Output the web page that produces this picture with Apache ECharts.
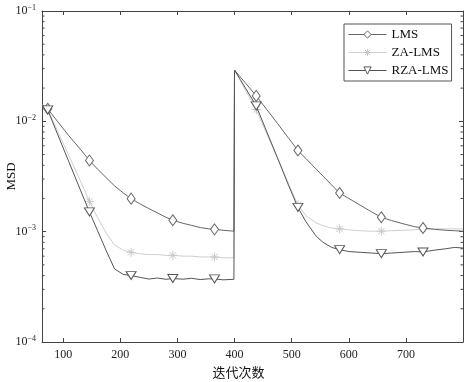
<!DOCTYPE html>
<html>
<head>
<meta charset="utf-8">
<script src="https://cdn.jsdelivr.net/npm/echarts@6/dist/echarts.min.js"></script>
<style>
html,body{margin:0;padding:0;background:#fff;}
#chart{width:464px;height:382px;}
</style>
</head>
<body>
<div id="chart"></div>
<script>
// iteration index (x)
const iterations = [63,73,90,110,130,146,160,175,190,205,219,235,250,265,280,292,310,325,340,355,365,380,399,
  400,410,420,438,455,475,495,511,525,543,555,570,584,600,620,640,657,675,695,715,730,750,770,785,800];
// MSD values
const lmsMSD = [0.0142,0.0130,0.0100,0.0074,0.0056,0.00442,0.0037,0.0031,0.0026,0.00225,
  0.00199,0.00178,0.00162,0.00148,0.00135,0.00127,0.00119,0.00114,0.00109,0.00106,
  0.00105,0.00103,0.00101,
  0.0292,0.0253,0.0220,0.0170,0.0131,0.0096,0.0070,
  0.00544,0.00459,0.00369,0.00319,0.00265,0.00224,0.00200,0.00174,0.00151,0.00135,
  0.00126,0.00118,0.00111,0.00108,0.00105,0.00103,0.00102,0.00101];
const zaMSD = [0.0142,0.0128,0.0082,0.0049,0.0029,0.00188,0.00135,0.00098,0.00076,0.00068,
  0.00065,0.00063,0.00062,0.00062,0.00061,0.00061,0.00060,0.00060,0.00059,0.00059,
  0.00059,0.00058,0.00058,
  0.0292,0.0234,0.0188,0.0128,0.0080,0.0047,0.0027,
  0.00175,0.00140,0.00120,0.00113,0.00108,0.00106,0.00104,0.00102,0.00101,0.00101,
  0.00102,0.00103,0.00104,0.00106,0.00106,0.00106,0.00106,0.00106];
const rzaMSD = [0.0142,0.0127,0.0077,0.0043,0.0024,0.00151,0.00103,0.00068,0.00046,0.00041,
  0.000400,0.000385,0.000372,0.000380,0.000370,0.000376,0.000371,0.000378,0.000368,0.000374,
  0.000373,0.000366,0.000370,
  0.0292,0.0240,0.0197,0.0138,0.0084,0.0047,0.0026,
  0.00166,0.00123,0.00091,0.00080,0.00072,0.000687,0.00066,0.00065,0.00064,0.000632,
  0.00064,0.00065,0.00066,0.000655,0.00068,0.00070,0.00072,0.000711];
// iterations where markers are drawn
const markerIters = [73,146,219,292,365,438,511,584,657,730];
// names
const seriesNames = ['LMS','ZA-LMS','RZA-LMS'];
const xTickLabels = [100,200,300,400,500,600,700];
const yMinorTicks = [2e-4,3e-4,4e-4,5e-4,6e-4,7e-4,8e-4,9e-4,2e-3,3e-3,4e-3,5e-3,6e-3,7e-3,8e-3,9e-3,2e-2,3e-2,4e-2,5e-2,6e-2,7e-2,8e-2,9e-2];

const serif = 'Liberation Serif';
const axisColor = '#444';

function build(vals){
  return iterations.map((x,i)=>{
    const on = markerIters.indexOf(x) >= 0;
    return on ? {value:[x, vals[i]]} : {value:[x, vals[i]], symbol:'none'};
  });
}
const starPath = 'path://M5,0L5,10M0,5L10,5M1.5,1.5L8.5,8.5M1.5,8.5L8.5,1.5';

const chart = echarts.init(document.getElementById('chart'), null, {renderer:'canvas'});
const sup = {a:{fontFamily:serif,fontSize:12,color:'#222'}, b:{fontFamily:serif,fontSize:8,color:'#222',padding:[0,0,7,0]}};
const option = {
  animation:false,
  backgroundColor:'#fff',
  grid:{left:42,right:1,top:11,bottom:40,containLabel:false,outerBoundsMode:'none'},
  legend:{
    data:seriesNames, orient:'vertical', left:344, top:24,
    itemWidth:38, itemHeight:9, itemGap:5,
    padding:[4,3,4,4], borderColor:'#555', borderWidth:1, backgroundColor:'#fff',
    lineStyle:{width:1}, itemStyle:{borderWidth:1},
    textStyle:{fontFamily:serif,fontSize:13,color:'#111'}
  },
  xAxis:[{
    type:'value', min:63, max:800, position:'bottom',
    name:'迭代次数', nameLocation:'middle', nameGap:21,
    nameTextStyle:{fontFamily:'Noto Sans CJK SC',fontSize:13,color:'#111',padding:[0,28,0,0]},
    axisLine:{show:true,onZero:false,lineStyle:{color:axisColor,width:1}},
    axisTick:{show:true,inside:true,length:4,lineStyle:{color:axisColor},customValues:xTickLabels},
    axisLabel:{fontFamily:serif,fontSize:12,color:'#222',margin:7,customValues:xTickLabels},
    splitLine:{show:false}
  },{
    type:'value', min:63, max:800, position:'top',
    axisLine:{show:true,onZero:false,lineStyle:{color:axisColor,width:1}},
    axisTick:{show:true,inside:true,length:4,lineStyle:{color:axisColor},customValues:xTickLabels},
    axisLabel:{show:false}, splitLine:{show:false}
  }],
  yAxis:[{
    type:'log', logBase:10, min:1e-4, max:1e-1, position:'left',
    name:'MSD', nameLocation:'middle', nameGap:24, nameRotate:90, nameMoveOverlap:false,
    nameTextStyle:{fontFamily:serif,fontSize:13,color:'#111'},
    axisLine:{show:true,onZero:false,lineStyle:{color:axisColor,width:1}},
    axisTick:{show:true,inside:true,length:4,lineStyle:{color:axisColor}},
    axisLabel:{margin:6,rich:sup,
      formatter:v=>{const e=Math.round(Math.log10(v)); return '{a|10}{b|\u2212'+(-e)+'}';}},
    splitLine:{show:false}
  },{
    type:'log', logBase:10, min:1e-4, max:1e-1, position:'right',
    axisLine:{show:true,onZero:false,lineStyle:{color:axisColor,width:1}},
    axisTick:{show:true,inside:true,length:4,lineStyle:{color:axisColor}},
    axisLabel:{show:false}, splitLine:{show:false}
  }],
  series:[
    {name:'LMS', type:'line', data:build(lmsMSD), symbol:'diamond', symbolSize:[8,11],
     lineStyle:{color:'#666',width:1}, itemStyle:{color:'#fff',borderColor:'#666',borderWidth:1},
     z:3},
    {name:'ZA-LMS', type:'line', data:build(zaMSD), symbol:starPath, symbolSize:9,
     lineStyle:{color:'#cfcfcf',width:1}, itemStyle:{color:'transparent',borderColor:'#c8c8c8',borderWidth:1},
     z:2},
    {name:'RZA-LMS', type:'line', data:build(rzaMSD), symbol:'triangle', symbolRotate:180, symbolSize:[10,8],
     lineStyle:{color:'#555',width:1}, itemStyle:{color:'#fff',borderColor:'#555',borderWidth:1},
     z:4},
    {type:'custom', silent:true, clip:false, z:5,
     data:yMinorTicks.map(v=>[63,v]),
     encode:{x:0,y:1},
     renderItem:(params,api)=>{
       const y = api.coord([api.value(0),api.value(1)])[1];
       const cs = params.coordSys;
       return {type:'group',children:[
         {type:'line',shape:{x1:cs.x,y1:y,x2:cs.x+2.5,y2:y},style:{stroke:axisColor,lineWidth:1}},
         {type:'line',shape:{x1:cs.x+cs.width-2.5,y1:y,x2:cs.x+cs.width,y2:y},style:{stroke:axisColor,lineWidth:1}}
       ]};
     }}
  ]
};
chart.setOption(option);
</script>
</body>
</html>
